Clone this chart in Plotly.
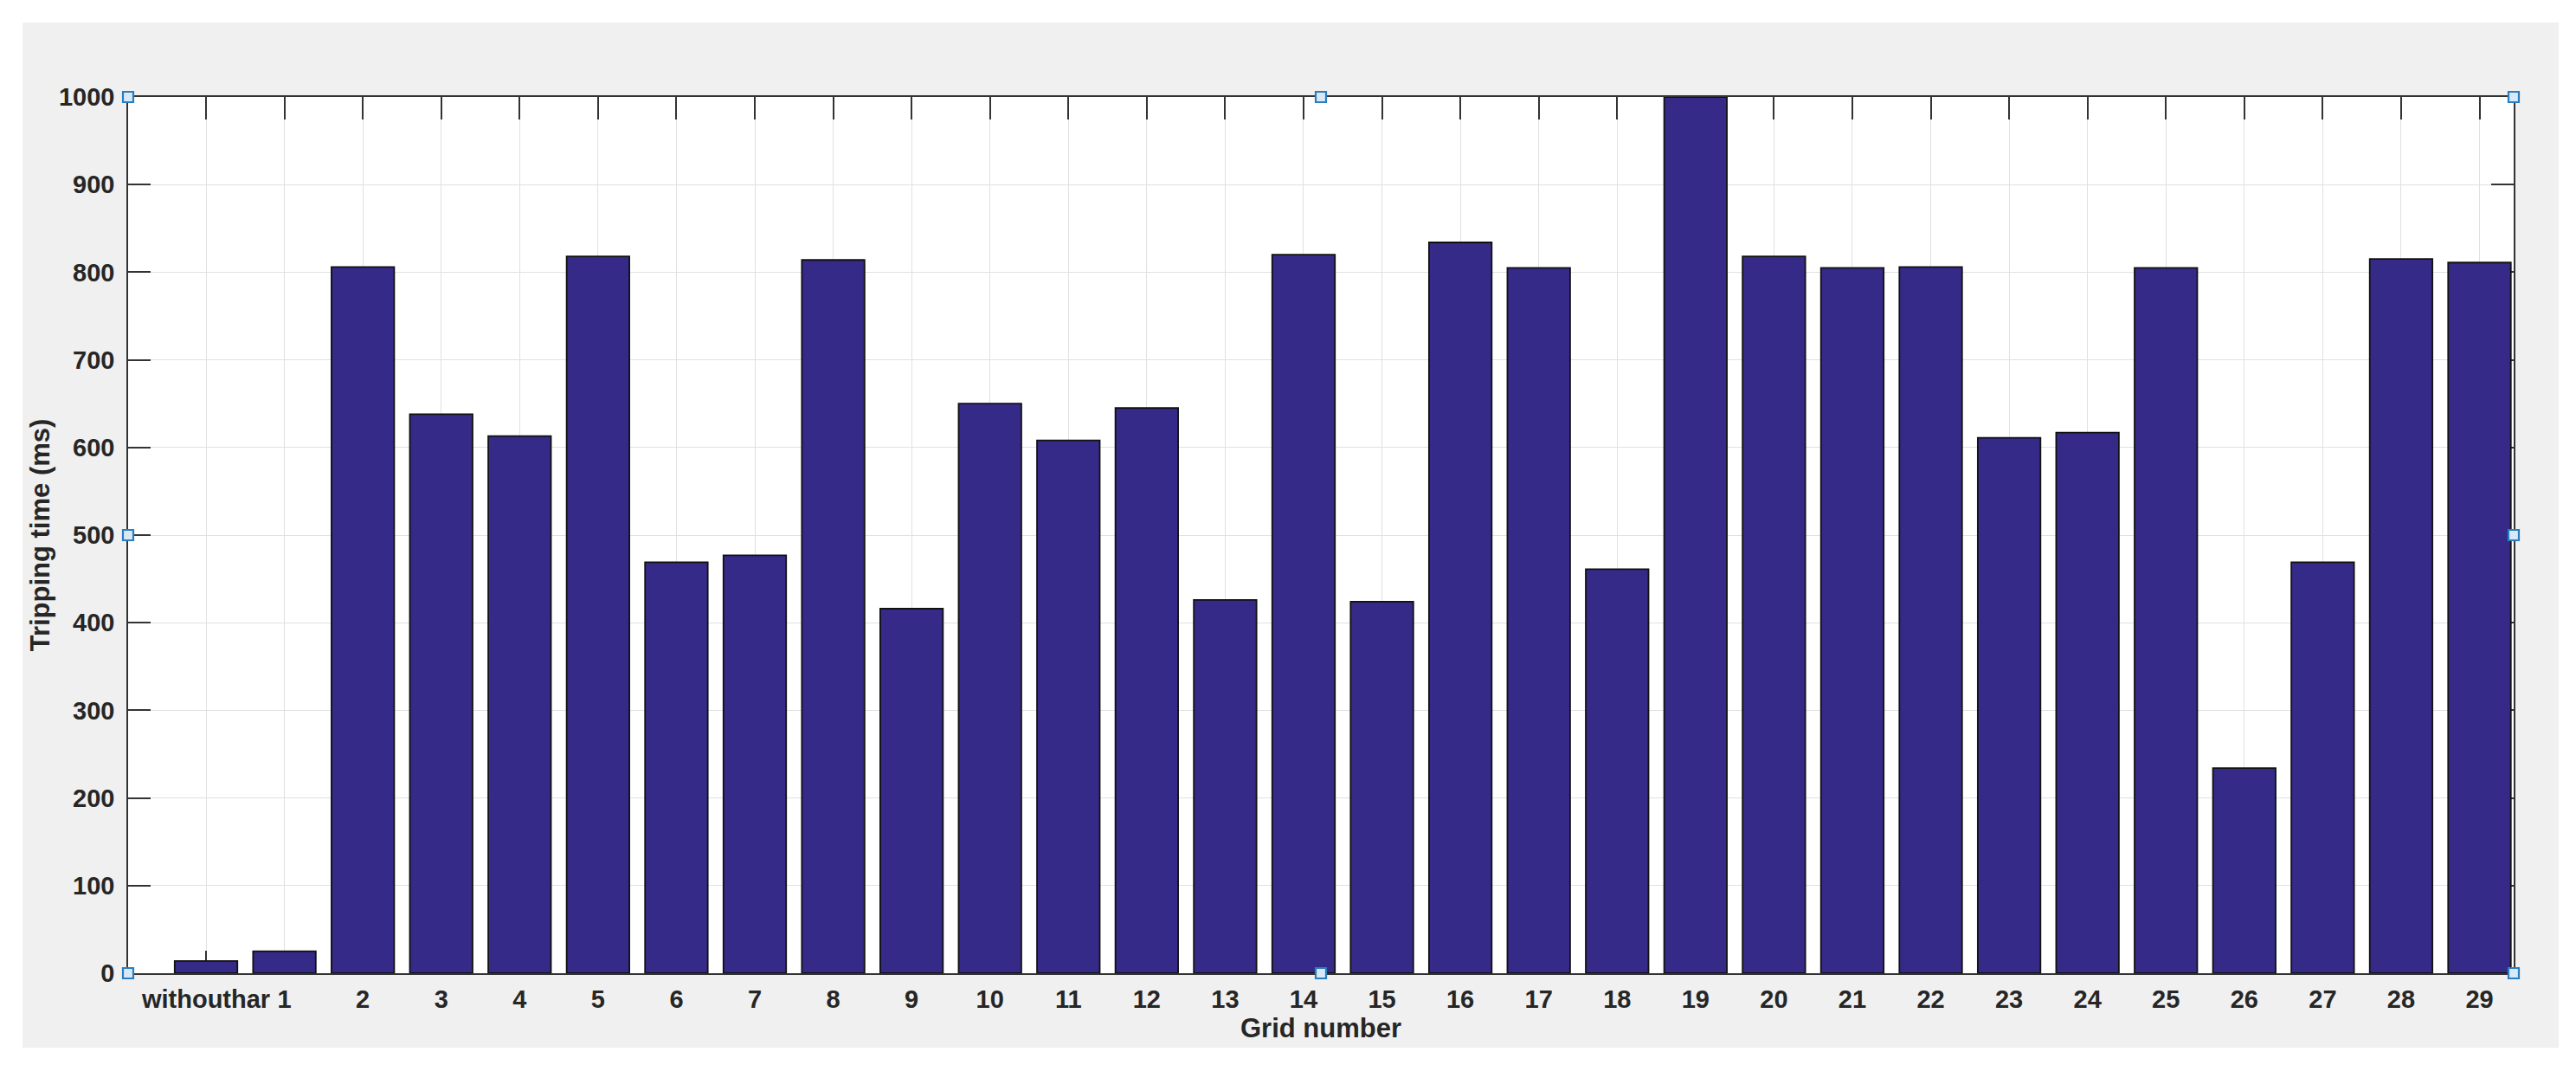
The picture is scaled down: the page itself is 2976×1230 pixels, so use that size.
import plotly.graph_objects as go

# ---- data ----
categories = ["withouthar"] + [str(i) for i in range(1, 30)]
tripping_ms = [14, 25, 806, 638, 613, 818, 469, 477, 814, 416,
               650, 608, 645, 426, 820, 424, 834, 805, 461, 1000,
               818, 805, 806, 611, 617, 805, 234, 469, 815, 811]
y_ticks = list(range(0, 1001, 100))

x_pos = list(range(len(categories)))

W, H = 2976, 1230
TXT = "#262626"
FONT = "Liberation Sans, Arial, Helvetica, sans-serif"

fig = go.Figure()
fig.add_trace(go.Bar(
    x=x_pos, y=tripping_ms, width=0.8,
    marker=dict(color="rgb(53,42,135)", line=dict(color="#111111", width=1.8)),
    showlegend=False,
))

ml, mr, mt, mb = 148, 72, 112, 106
pw, ph = W - ml - mr, H - mt - mb

def px2paper_x(px):
    return (px - ml) / pw

def px2paper_y(py):
    return (H - mb - py) / ph

shapes = [
    # grey MATLAB figure background
    dict(type="rect", xref="paper", yref="paper", layer="below",
         x0=px2paper_x(26), x1=px2paper_x(2956), y0=px2paper_y(1210), y1=px2paper_y(26),
         fillcolor="#f0f0f0", line=dict(width=0)),
    # white axes area
    dict(type="rect", xref="paper", yref="paper", layer="below",
         x0=0, x1=1, y0=0, y1=1, fillcolor="white", line=dict(width=0)),
]
# selection handles
for hx in (0, 0.5, 1):
    for hy in (0, 0.5, 1):
        if hx == 0.5 and hy == 0.5:
            continue
        shapes.append(dict(type="rect", xref="paper", yref="paper",
                           xsizemode="pixel", ysizemode="pixel",
                           xanchor=hx, yanchor=hy, x0=-6, x1=6, y0=-6, y1=6,
                           fillcolor="#d7e8f7", line=dict(color="#2a7dc0", width=2.2),
                           layer="above"))

fig.update_layout(
    width=W, height=H,
    paper_bgcolor="white", plot_bgcolor="white",
    margin=dict(l=ml, r=mr, t=mt, b=mb),
    bargap=0.2,
    shapes=shapes,
    font=dict(family=FONT, color=TXT, size=29),
)

fig.update_xaxes(
    range=[-0.994, 29.436],
    tickmode="array", tickvals=x_pos, ticktext=categories,
    ticks="inside", ticklen=26, tickwidth=1.6, tickcolor="#333333",
    showline=True, linecolor="#333333", linewidth=1.6, mirror="ticks",
    showgrid=True, gridcolor="#e1e1e1", gridwidth=1,
    tickfont=dict(family=FONT, size=29, color=TXT, weight="bold"),
    ticklabelstandoff=3,
    layer="below traces",
    title=dict(text="<b>Grid number</b>", font=dict(family=FONT, size=31, color=TXT), standoff=0),
    zeroline=False,
)
fig.update_yaxes(
    range=[0, 1000],
    tickmode="array", tickvals=y_ticks,
    ticks="inside", ticklen=26, tickwidth=1.6, tickcolor="#333333",
    showline=True, linecolor="#333333", linewidth=1.6, mirror="ticks",
    showgrid=True, gridcolor="#e1e1e1", gridwidth=1,
    tickfont=dict(family=FONT, size=29, color=TXT, weight="bold"),
    ticklabelstandoff=8,
    layer="below traces",
    title=dict(text="<b>Tripping time (ms)</b>", font=dict(family=FONT, size=31, color=TXT), standoff=1),
    zeroline=False,
)

fig.write_html("out.html", config={"displayModeBar": False},
               post_script="document.body.style.margin='0';document.body.style.overflow='hidden';")
